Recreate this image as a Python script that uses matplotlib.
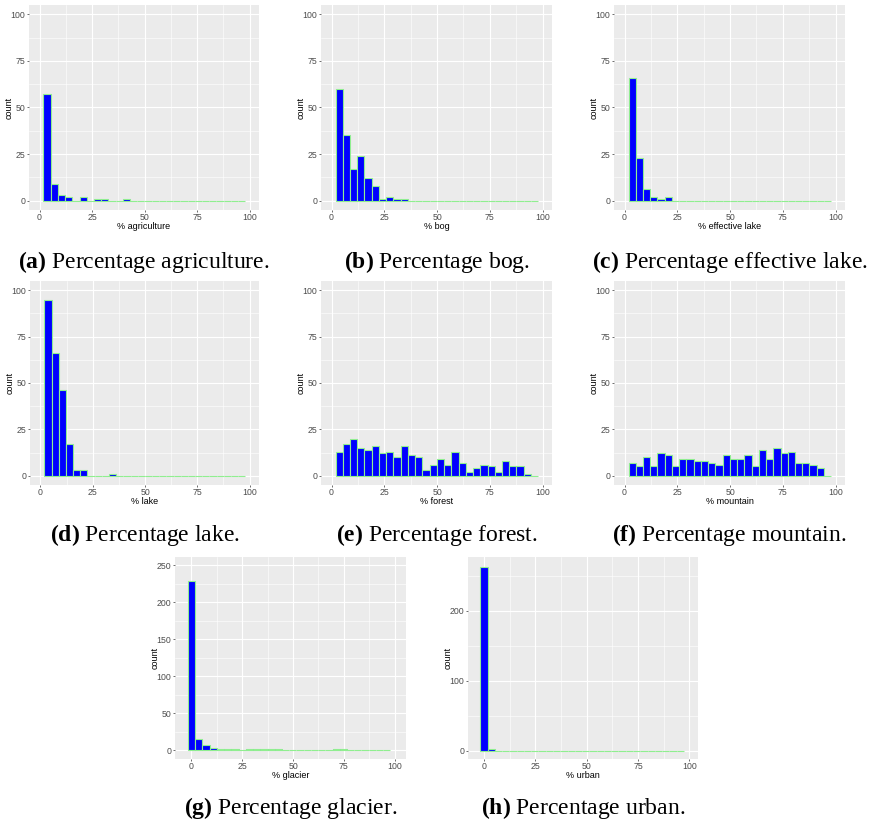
import matplotlib
matplotlib.use("Agg")
import numpy as np
import matplotlib.pyplot as plt
from matplotlib.ticker import MultipleLocator

plt.rcParams["mathtext.fontset"] = "custom"
plt.rcParams["mathtext.rm"] = "Liberation Serif"
plt.rcParams["mathtext.bf"] = "Liberation Serif:bold"

# histogram counts per bin, 28 bins each
agriculture = [57, 9, 3, 2, 0, 2, 0, 1, 1, 0, 0, 1] + [0] * 16
bog = [60, 35, 17, 24, 12, 8, 1, 2, 1, 1] + [0] * 18
effective_lake = [66, 23, 6, 2, 1, 2] + [0] * 22
lake = [95, 66, 46, 17, 3, 3, 0, 0, 0, 1] + [0] * 18
forest = [13, 17, 20, 15, 14, 16, 12, 13, 10, 16, 11, 10, 3, 6,
          9, 6, 13, 7, 2, 4, 6, 5, 2, 8, 5, 5, 1, 0]
mountain = [7, 5, 10, 5, 12, 11, 5, 9, 9, 8, 8, 7, 6, 11,
            9, 9, 11, 5, 14, 9, 15, 12, 13, 7, 7, 6, 4, 0]
glacier = [229, 15, 7, 3, 1, 2, 1, 0, 1, 2, 1, 1, 1, 0,
           0, 0, 0, 0, 0, 0, 1, 1, 0, 0, 0, 0, 0, 0]
urban = [262, 2] + [0] * 26

# first bin edge and bin width (in %)
bin_start = [1.9, 1.9, 1.9, 1.9, 1.9, 1.9, -1.6, -1.8]
bin_width = [3.43, 3.43, 3.43, 3.43, 3.43, 3.43, 3.55, 3.54]

xlabels = ["% agriculture", "% bog", "% effective lake", "% lake",
           "% forest", "% mountain", "% glacier", "% urban"]
letters = ["a", "b", "c", "d", "e", "f", "g", "h"]
captions = ["Percentage agriculture.", "Percentage bog.", "Percentage effective lake.",
            "Percentage lake.", "Percentage forest.", "Percentage mountain.",
            "Percentage glacier.", "Percentage urban."]
all_counts = [agriculture, bog, effective_lake, lake, forest, mountain, glacier, urban]

# panel boxes in pixels: left, top, right, bottom
W, H = 874, 824
boxes = [(29, 5, 259, 210), (321, 5, 552, 210), (614, 5, 845, 210),
         (30, 281, 259, 485), (321, 281, 552, 485), (614, 281, 845, 485),
         (175, 557, 406, 759), (468, 557, 698, 759)]
xlims = [(-5, 104.5)] * 6 + [(-8, 105.5), (-7.8, 104.2)]
ylims = [(-5, 105)] * 6 + [(-12, 261), (-12, 277)]
yticks = [25] * 6 + [50, 100]
cap_y = [262, 262, 262, 535, 535, 535, 808, 808]

fig = plt.figure(figsize=(W / 100, H / 100), dpi=100)

for i in range(8):
    l, t, r, b = boxes[i]
    ax = fig.add_axes([l / W, 1 - b / H, (r - l) / W, (b - t) / H])
    ax.set_facecolor("#EBEBEB")
    counts = all_counts[i]
    edges = bin_start[i] + bin_width[i] * np.arange(len(counts))
    ax.bar(edges, counts, width=bin_width[i], align="edge", color="blue",
           edgecolor="#90EE90", linewidth=0.8, zorder=3)
    ax.set_xlim(*xlims[i])
    ax.set_ylim(*ylims[i])
    ax.xaxis.set_major_locator(MultipleLocator(25))
    ax.xaxis.set_minor_locator(MultipleLocator(12.5))
    ax.yaxis.set_major_locator(MultipleLocator(yticks[i]))
    ax.yaxis.set_minor_locator(MultipleLocator(yticks[i] / 2))
    ax.grid(which="major", color="white", linewidth=0.8, zorder=0)
    ax.grid(which="minor", color="white", linewidth=0.4, zorder=0)
    for s in ax.spines.values():
        s.set_visible(False)
    ax.tick_params(which="major", length=1.5, width=0.5, color="#333333",
                   labelsize=6.3, labelcolor="#4D4D4D", pad=1)
    ax.tick_params(which="minor", length=0)
    for lab in ax.get_xticklabels() + ax.get_yticklabels():
        lab.set_family("Liberation Sans")
    ax.set_xlabel(xlabels[i], fontsize=6.5, family="Liberation Sans", labelpad=0)
    ax.set_ylabel("count", fontsize=6.5, family="Liberation Sans")
    ax.yaxis.set_label_coords(-15 / (r - l), 0.5)

    cx = (l + r) / 2 / W
    fig.text(cx, 1 - cap_y[i] / H, r"$\mathbf{(" + letters[i] + ")}$ " + captions[i],
             ha="center", va="center", fontsize=17, family="Liberation Serif")

fig.savefig("out.png", dpi=100)
